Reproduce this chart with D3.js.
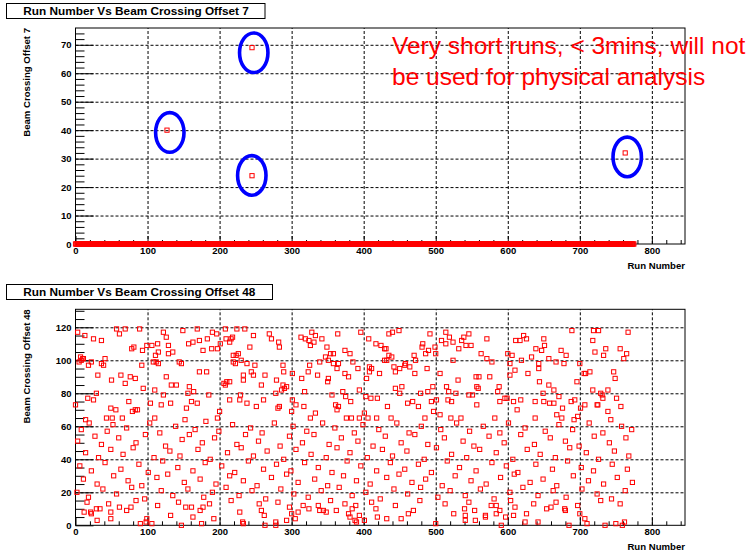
<!DOCTYPE html>
<html><head><meta charset="utf-8">
<script src="https://cdn.jsdelivr.net/npm/d3@7"></script>
<style>
body{margin:0;background:#fff}
svg{display:block}
text{font-family:"Liberation Sans",Arial,Helvetica,sans-serif}
</style>
</head><body>
<svg id="c" width="755" height="554"></svg>
<script>
// ---------- data ----------
const runs7 = [127, 245, 245, 763];
const offs7 = [40, 69, 24, 32];
const zeroRunFirst = 0, zeroRunLast = 775;   // runs with offset 0 (all others)
// upper part of the offset-48 panel (offset >= 64)
const points48Upper = [
[3,117],[13,115],[57,119],[69,119],[61,116],[89,119],[25,113],[36,112],[78,107],[81,108],[93,106],[99,109],[106,109],[114,110],[122,117],[126,114],[129,109],[111,103],[115,105],[129,104],[135,105],[149,118],[169,119],[157,110],[163,111],[172,112],[183,113],[190,117],[196,116],[208,119],[209,113],[216,113],[201,110],[214,111],[177,106],[189,107],[197,107],
[7,102],[10,101],[5,99],[8,100],[11,101],[18,97],[22,99],[36,98],[39,97],[41,101],[92,97],[108,99],[112,99],[115,98],[144,99],[147,98],[172,93],[182,93],
[31,91],[50,88],[63,91],[69,86],[76,90],[83,89],[94,83],[126,90],[133,85],[140,85],[158,84],[164,81],[156,80],[185,79],[206,86],[208,85],[210,87],[214,87],
[29,80],[17,77],[25,76],[0,73],[74,75],[104,74],[110,82],[122,79],[119,73],[132,74],[169,74],[154,71],[161,75],[49,71],[56,70],[79,69],[83,70],[86,70],[200,69],[214,76],
[43,65],[51,65],[65,65],[110,65],[152,64],[197,65],[14,64],
[224,119],[235,119],[218,114],[247,115],[269,116],[272,113],[282,111],[283,108],[242,108],[219,103],[223,103],[226,104],[219,99],[222,98],[230,100],[238,98],[249,97],[288,97],[289,93],[301,92],[233,91],[233,88],[244,93],[247,91],[263,91],[279,88],[258,85],[288,85],[293,84],[290,83],[286,82],[278,80],[229,79],[228,76],[238,74],[261,76],[251,72],[301,76],[306,73],[317,72],[283,72],[281,71],[300,69],[333,68],[326,65],
[313,114],[319,113],[324,112],[328,117],[333,115],[331,111],[326,109],[342,113],[364,116],[349,108],[374,106],[381,104],[396,117],[407,113],[417,110],[424,109],[429,107],[347,102],[354,104],[358,104],[351,100],[358,98],[365,98],[363,95],[339,99],[325,97],[323,93],[336,91],[314,89],[351,89],[350,87],[374,92],[379,90],[385,99],[392,95],[408,96],[411,95],[408,93],[404,89],[422,92],[429,100],
[318,81],[356,79],[371,81],[375,78],[382,75],[394,82],[403,78],[410,77],[419,77],[361,73],[365,72],[363,70],[401,68],[376,65],[383,65],[394,65],[406,65],[418,65],
[435,116],[440,117],[449,118],[431,107],[435,103],[439,102],[432,100],[470,103],[472,100],[482,110],[481,108],[490,106],[486,104],[499,108],[500,104],[492,116],[514,117],[519,114],[508,112],[514,110],[524,111],[539,114],[546,116],[536,112],[542,109],[549,109],[532,107],[571,113],[563,104],[571,101],[578,99],[524,100],[600,104],[606,103],[603,98],[611,112],[617,112],[622,115],[626,113],[619,100],[633,102],[639,107],[643,98],[643,95],
[458,98],[457,97],[450,95],[442,96],[444,93],[464,96],[471,92],[488,95],[506,92],[531,88],[556,90],[560,90],[575,90],[603,91],[610,94],[628,92],[644,87],
[453,84],[444,83],[450,80],[489,81],[496,84],[515,84],[518,81],[528,80],[557,84],[559,83],[588,84],[586,81],[479,80],
[461,74],[468,75],[476,72],[494,75],[501,76],[517,76],[522,75],[546,79],[551,79],[557,73],[589,75],[596,77],[599,77],[608,75],[618,76],[613,70],[638,75],[433,72],[497,69],[506,67],
[438,65],[485,65],[521,65],[535,65],[582,65],[638,65],
[689,118],[719,118],[726,118],[767,117],[650,113],[651,109],[647,106],[674,106],[681,103],[718,112],[736,107],[721,105],[733,103],[756,107],[765,104],[761,101],[657,101],[667,99],[678,98],[700,98],[706,92],[708,92],[714,93],[747,93],[749,89],[696,87],[657,85],[664,82],[649,80],[718,82],[729,80],[731,79],[732,77],[739,82],[751,77],[671,78],[650,75],[658,74],[664,74],[688,75],[693,76],[676,71],[701,71],[707,73],[724,73],[725,73],[757,72],[739,69],[668,67],[697,66],[675,65],[692,64],[743,64]
];
// middle part (offset 12..63)
const points48Middle = [
[8,58],[19,62],[44,57],[52,61],[71,59],[103,62],[117,56],[139,60],[166,58],[181,63],[199,57],[218,61],[243,59],[259,56],[276,62],[302,60],[321,57],[343,62],[360,59],[387,56],[399,61],[421,58],[446,62],[463,56],[480,60],[507,58],[529,62],[547,57],[566,60],[589,56],[601,62],[624,59],[652,57],[671,61],[690,58],[713,62],[732,56],[758,60],[772,58],
[3,51],[27,54],[36,49],[60,53],[84,50],[97,55],[125,48],[148,52],[158,55],[176,50],[193,53],[224,49],[236,55],[254,51],[284,48],[297,54],[315,50],[331,55],[352,49],[369,53],[392,51],[413,48],[430,54],[452,50],[471,55],[489,49],[512,53],[538,51],[553,48],[574,54],[595,50],[618,55],[637,49],[659,53],[680,51],[699,48],[720,54],[741,50],[764,53],
[14,44],[32,41],[49,46],[66,43],[80,47],[109,41],[131,45],[145,42],[170,46],[187,40],[211,44],[230,47],[247,42],[266,45],[289,40],[306,46],[327,43],[348,41],[363,47],[381,44],[405,41],[426,46],[440,42],[460,45],[484,40],[501,47],[522,43],[543,41],[561,46],[584,44],[607,40],[627,46],[645,43],[666,41],[686,47],[709,44],[726,40],[748,45],[768,42],
[6,36],[22,33],[41,38],[63,34],[88,37],[101,32],[121,39],[142,35],[163,33],[180,38],[203,36],[221,32],[240,39],[261,34],[279,37],[299,33],[318,38],[337,35],[356,32],[377,39],[396,36],[418,33],[437,38],[457,34],[476,37],[494,32],[516,39],[533,35],[556,33],[578,38],[598,36],[614,32],[639,37],[662,34],[683,39],[702,35],[719,33],[745,37],[766,34],
[11,28],[30,25],[53,30],[73,27],[92,24],[113,29],[128,31],[151,26],[173,28],[195,25],[214,30],[233,27],[252,24],[272,29],[293,31],[309,26],[332,28],[350,24],[372,30],[390,27],[409,25],[432,29],[449,31],[467,26],[486,28],[509,24],[527,30],[549,27],[570,25],[590,29],[609,31],[631,26],[649,28],[668,24],[691,30],[712,27],[733,25],[752,29],[773,26],
[2,20],[18,17],[38,22],[57,19],[78,23],[96,16],[119,21],[135,18],[156,22],[178,17],[190,20],[209,23],[227,18],[245,21],[264,16],[285,22],[303,19],[323,17],[341,21],[366,23],[384,18],[403,20],[423,16],[442,22],[461,19],[479,23],[503,17],[520,21],[541,18],[562,22],[581,16],[603,20],[621,23],[642,18],[663,21],[681,17],[703,22],[724,19],[744,16],[763,21],
[16,14],[46,13],[84,15],[114,12],[143,14],[186,13],[216,15],[255,13],[281,14],[316,12],[354,15],[374,13],[411,14],[444,12],[478,15],[513,13],[546,14],[577,12],[604,15],[636,13],[667,14],[697,12],[729,15],[756,13]
];
// lower part (offset 0..12)
const points48Lower = [
[12,8],[21,8],[22,7],[29,10],[34,10],[30,3],[49,4],[49,8],[61,11],[71,9],[77,11],[90,1],[98,2],[99,4],[106,1],[132,6],[147,0],[153,11],[161,11],[163,5],[173,9],[177,11],[175,1],[192,4],[228,8],[232,2],[233,1],[258,9],[262,6],[263,0],[278,2],[278,0],[293,3],[297,11],[300,7],[305,4],[309,8],[324,10],[337,12],[339,9],[344,9],[348,8],[362,9],[379,7],[381,5],[384,10],[388,3],[390,2],[389,12],[394,6],[401,3],[417,10],[419,5],[432,4],[452,4],[462,7],[469,9],[500,1],[525,7],[540,10],[541,6],[541,3],[554,9],[555,3],[569,6],[569,5],[584,12],[584,7],[589,9],[591,0],[597,5],[608,6],[610,11],[624,2],[626,7],[642,2],[654,10],[660,11],[679,10],[680,9],[685,0],[700,7],[707,4],[710,1],[735,0],[750,1],[759,0],[762,2]
];
const xTicks = [0,100,200,300,400,500,600,700,800];
const yTicks7 = [0,10,20,30,40,50,60,70];
const yTicks48 = [0,20,40,60,80,100,120];
const noteLines = ["Very short runs, < 3mins, will not", "be used for physical analysis"];
const circledRuns = [247.4, 130.9, 244.7, 765.8];
const circledOffs = [67.2, 39.2, 24.1, 30.6];

// ---------- drawing ----------
const svg = d3.select("#c");
const RED = "#ff0000";
const X0 = 75.5, X1 = 685, XMAX = 846;
const x = d3.scaleLinear().domain([0, XMAX]).range([X0, X1]);
const mk = 4.2;

function panel(cfg){
  const y = d3.scaleLinear().domain([0, cfg.ymax]).range([cfg.bottom, cfg.top]);
  const g = svg.append("g");
  const H = cfg.bottom - cfg.top, W = X1 - X0;
  g.append("g").attr("transform", `translate(0,${cfg.bottom})`)
    .call(d3.axisBottom(x).tickValues(xTicks.filter(v=>v>0)).tickSize(-H).tickFormat(""))
    .call(a=>{a.select(".domain").remove(); a.selectAll("line").attr("stroke","#000").attr("stroke-dasharray","3,2");});
  g.append("g").attr("transform", `translate(${X0},0)`)
    .call(d3.axisLeft(y).tickValues(cfg.yTicks.filter(v=>v>0)).tickSize(-W).tickFormat(""))
    .call(a=>{a.select(".domain").remove(); a.selectAll("line").attr("stroke","#000").attr("stroke-dasharray","3,2");});
  const xMinor = d3.range(0, XMAX, 20).filter(v=>v%100!==0);
  g.append("g").attr("transform", `translate(0,${cfg.bottom})`)
    .call(d3.axisBottom(x).tickValues(xMinor).tickSize(-4).tickFormat(""))
    .call(a=>{a.select(".domain").remove();});
  const yMinor = d3.range(0, cfg.ymax, cfg.yMinor).filter(v=>Math.abs(v % cfg.yMajor)>1e-6);
  g.append("g").attr("transform", `translate(${X0},0)`)
    .call(d3.axisLeft(y).tickValues(yMinor).tickSize(-9).tickFormat(""))
    .call(a=>{a.select(".domain").remove();});
  g.append("g").attr("transform", `translate(0,${cfg.bottom})`)
    .call(d3.axisBottom(x).tickValues(xTicks).tickSize(-8).tickPadding(3).tickFormat(d3.format("d")))
    .call(a=>{a.select(".domain").remove();
      a.selectAll("text").attr("font-size","9.5px").attr("font-weight","bold").attr("fill","#000")
       .attr("font-family","'Liberation Sans',Arial,sans-serif");});
  g.append("g").attr("transform", `translate(${X0},0)`)
    .call(d3.axisLeft(y).tickValues(cfg.yTicks).tickSize(-18).tickPadding(4).tickFormat(d3.format("d")))
    .call(a=>{a.select(".domain").remove();
      a.selectAll("text").attr("font-size","9.5px").attr("font-weight","bold").attr("fill","#000")
       .attr("font-family","'Liberation Sans',Arial,sans-serif");});
  g.append("rect").attr("x",X0).attr("y",cfg.top).attr("width",W).attr("height",H)
    .attr("fill","none").attr("stroke","#000").attr("stroke-width",1);
  g.append("text").attr("x",X1).attr("y",cfg.bottom+24.5).attr("text-anchor","end")
    .attr("font-size","9.6px").attr("font-weight","bold").text("Run Number");
  g.append("text").attr("transform",`translate(29.5,${cfg.top}) rotate(-90)`).attr("text-anchor","end")
    .attr("font-size","9.6px").attr("font-weight","bold").text(cfg.ytitle);
  const tb = g.append("g");
  tb.append("rect").attr("x",6.5).attr("y",cfg.titleY).attr("width",cfg.titleW).attr("height",15)
    .attr("fill","#fff").attr("stroke","#000");
  tb.append("text").attr("x",23.3).attr("y",cfg.titleY+11.7).attr("font-size","11.8px")
    .attr("font-weight","bold").text(cfg.title);
  return {g, y};
}

function squares(g, y, data){
  g.append("g").selectAll("rect").data(data).join("rect")
    .attr("x",d=>x(d[0])-mk/2).attr("y",d=>y(d[1])-mk/2).attr("width",mk).attr("height",mk)
    .attr("fill","none").attr("stroke",RED).attr("stroke-width",1);
}

// top panel
const p1 = panel({top:28, bottom:244, ymax:75.9, yTicks:yTicks7, yMajor:10, yMinor:2,
  ytitle:"Beam Crossing Offset 7", title:"Run Number Vs Beam Crossing Offset 7", titleY:3.5, titleW:258.5});
const outl = new Set(runs7);
const zeroRuns = d3.range(zeroRunFirst, zeroRunLast+1).filter(r=>!outl.has(r));
squares(p1.g, p1.y, zeroRuns.map(r=>[r,0]));
squares(p1.g, p1.y, runs7.map((r,i)=>[r,offs7[i]]));
p1.g.append("g").selectAll("ellipse").data(circledRuns.map((r,i)=>[r,circledOffs[i]])).join("ellipse")
  .attr("cx",d=>x(d[0])).attr("cy",d=>p1.y(d[1])).attr("rx",14.2).attr("ry",19.8)
  .attr("fill","none").attr("stroke","#0000ff").attr("stroke-width",3.6);
p1.g.append("g").selectAll("text").data(noteLines).join("text")
  .attr("x",392).attr("y",(d,i)=>53.5+i*31.5).attr("font-size","24.5px").attr("fill",RED).text(d=>d);

// bottom panel
const p2 = panel({top:309.3, bottom:525.3, ymax:130.9, yTicks:yTicks48, yMajor:20, yMinor:5,
  ytitle:"Beam Crossing Offset 48", title:"Run Number Vs Beam Crossing Offset 48", titleY:284.5, titleW:266});
squares(p2.g, p2.y, points48Upper.concat(points48Middle, points48Lower));
</script>
</body></html>
